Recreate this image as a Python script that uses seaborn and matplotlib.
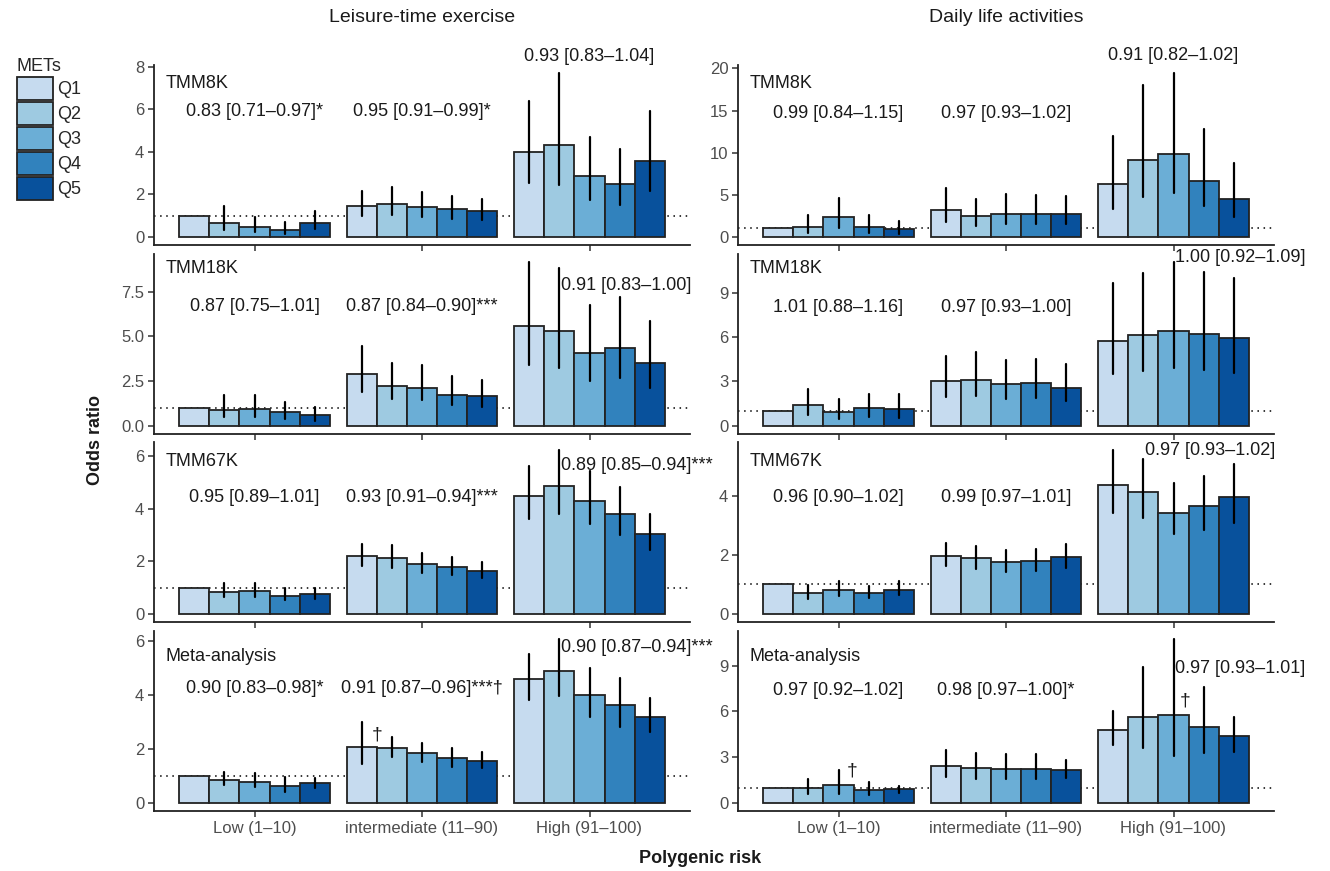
import numpy as np
import pandas as pd
import matplotlib
matplotlib.use("Agg")
import matplotlib.pyplot as plt
import matplotlib.transforms as mtransforms
from matplotlib.patches import Patch
from matplotlib.ticker import FormatStrFormatter
import seaborn as sns

sns.set_theme(style="white")
plt.rcParams['font.family'] = ['Liberation Sans', 'DejaVu Sans']

# ---------------- data ----------------
risk_groups = ["Low (1–10)", "intermediate (11–90)", "High (91–100)"]
met_levels = ["Q1", "Q2", "Q3", "Q4", "Q5"]
met_colors = ["#c6dbef", "#9ecae1", "#6baed6", "#3182bd", "#08519c"]
cohorts = ["TMM8K", "TMM18K", "TMM67K", "Meta-analysis"]
column_titles = ["Leisure-time exercise", "Daily life activities"]

# Leisure-time exercise: odds ratios [Low, intermediate, High] x [Q1..Q5]
leisure_tmm8k_or = [[1.0, 0.67, 0.47, 0.31, 0.67], [1.46, 1.55, 1.41, 1.29, 1.21], [3.97, 4.31, 2.85, 2.48, 3.56]]
leisure_tmm8k_lo = [[1.0, 0.31, 0.24, 0.14, 0.35], [0.99, 1.02, 0.94, 0.83, 0.80], [2.51, 2.43, 1.73, 1.49, 2.15]]
leisure_tmm8k_hi = [[1.0, 1.44, 0.94, 0.71, 1.21], [2.15, 2.35, 2.09, 1.91, 1.77], [6.38, 7.69, 4.71, 4.13, 5.91]]

leisure_tmm18k_or = [[1.0, 0.90, 0.96, 0.75, 0.60], [2.88, 2.24, 2.14, 1.75, 1.64], [5.60, 5.28, 4.06, 4.34, 3.53]]
leisure_tmm18k_lo = [[1.0, 0.49, 0.49, 0.36, 0.26], [1.90, 1.48, 1.45, 1.15, 1.05], [3.42, 3.25, 2.48, 2.65, 2.14]]
leisure_tmm18k_hi = [[1.0, 1.71, 1.71, 1.32, 1.07], [4.45, 3.53, 3.42, 2.76, 2.58], [9.15, 8.83, 6.77, 7.22, 5.88]]

leisure_tmm67k_or = [[1.0, 0.85, 0.88, 0.69, 0.75], [2.22, 2.13, 1.89, 1.80, 1.64], [4.51, 4.87, 4.32, 3.81, 3.03]]
leisure_tmm67k_lo = [[1.0, 0.64, 0.64, 0.54, 0.57], [1.82, 1.76, 1.57, 1.49, 1.38], [3.63, 3.80, 3.44, 3.01, 2.42]]
leisure_tmm67k_hi = [[1.0, 1.17, 1.16, 0.97, 1.00], [2.68, 2.61, 2.31, 2.18, 1.99], [5.62, 6.24, 5.44, 4.84, 3.82]]

leisure_meta_or = [[1.0, 0.84, 0.78, 0.61, 0.72], [2.08, 2.03, 1.84, 1.65, 1.55], [4.58, 4.87, 3.98, 3.62, 3.18]]
leisure_meta_lo = [[1.0, 0.65, 0.58, 0.39, 0.55], [1.44, 1.71, 1.52, 1.33, 1.29], [3.79, 3.95, 3.16, 2.82, 2.63]]
leisure_meta_hi = [[1.0, 1.14, 1.10, 0.94, 0.92], [3.00, 2.45, 2.20, 2.04, 1.87], [5.51, 6.06, 4.99, 4.61, 3.88]]

# Daily life activities
daily_tmm8k_or = [[1.0, 1.20, 2.31, 1.20, 0.88], [3.15, 2.51, 2.75, 2.71, 2.71], [6.22, 9.12, 9.88, 6.65, 4.46]]
daily_tmm8k_lo = [[1.0, 0.44, 1.08, 0.48, 0.36], [1.79, 1.31, 1.55, 1.55, 1.55], [3.27, 4.74, 5.26, 3.63, 2.31]]
daily_tmm8k_hi = [[1.0, 2.63, 4.62, 2.63, 1.91], [5.78, 4.46, 5.06, 4.98, 4.90], [12.03, 18.0, 19.44, 12.75, 8.73]]

daily_tmm18k_or = [[1.0, 1.38, 0.92, 1.17, 1.15], [3.00, 3.09, 2.80, 2.86, 2.57], [5.71, 6.11, 6.43, 6.23, 5.91]]
daily_tmm18k_lo = [[1.0, 0.72, 0.45, 0.61, 0.56], [1.92, 2.03, 1.80, 1.85, 1.67], [3.50, 3.72, 3.93, 3.79, 3.56]]
daily_tmm18k_hi = [[1.0, 2.48, 1.78, 2.14, 2.14], [4.71, 4.96, 4.47, 4.51, 4.15], [9.63, 10.35, 11.05, 10.42, 9.97]]

daily_tmm67k_or = [[1.0, 0.72, 0.81, 0.70, 0.82], [1.98, 1.88, 1.77, 1.78, 1.92], [4.38, 4.15, 3.44, 3.66, 3.98]]
daily_tmm67k_lo = [[1.0, 0.52, 0.60, 0.53, 0.63], [1.63, 1.52, 1.43, 1.45, 1.57], [3.43, 3.25, 2.70, 2.86, 3.09]]
daily_tmm67k_hi = [[1.0, 0.99, 1.10, 0.95, 1.10], [2.41, 2.30, 2.18, 2.19, 2.36], [5.56, 5.27, 4.44, 4.67, 5.08]]

daily_meta_or = [[1.0, 0.99, 1.18, 0.83, 0.88], [2.43, 2.30, 2.21, 2.24, 2.15], [4.78, 5.61, 5.75, 5.00, 4.36]]
daily_meta_lo = [[1.0, 0.57, 0.61, 0.53, 0.64], [1.71, 1.58, 1.54, 1.56, 1.64], [3.77, 3.60, 3.05, 3.25, 3.36]]
daily_meta_hi = [[1.0, 1.58, 2.13, 1.36, 1.12], [3.44, 3.25, 3.20, 3.20, 2.81], [6.05, 8.93, 10.75, 7.63, 5.66]]

# Trend-test annotations per panel: [Low, intermediate, High]
leisure_labels = [
    ["0.83 [0.71–0.97]*", "0.95 [0.91–0.99]*", "0.93 [0.83–1.04]"],
    ["0.87 [0.75–1.01]", "0.87 [0.84–0.90]***", "0.91 [0.83–1.00]"],
    ["0.95 [0.89–1.01]", "0.93 [0.91–0.94]***", "0.89 [0.85–0.94]***"],
    ["0.90 [0.83–0.98]*", "0.91 [0.87–0.96]***†", "0.90 [0.87–0.94]***"],
]
daily_labels = [
    ["0.99 [0.84–1.15]", "0.97 [0.93–1.02]", "0.91 [0.82–1.02]"],
    ["1.01 [0.88–1.16]", "0.97 [0.93–1.00]", "1.00 [0.92–1.09]"],
    ["0.96 [0.90–1.02]", "0.99 [0.97–1.01]", "0.97 [0.93–1.02]"],
    ["0.97 [0.92–1.02]", "0.98 [0.97–1.00]*", "0.97 [0.93–1.01]"],
]

y_ticks_leisure = [[0, 2, 4, 6, 8], [0, 2.5, 5, 7.5], [0, 2, 4, 6], [0, 2, 4, 6]]
y_ticks_daily = [[0, 5, 10, 15, 20], [0, 3, 6, 9], [0, 2, 4], [0, 3, 6, 9]]

# ---------------- layout (positions only) ----------------
W, H = 1330, 871
col_x = [154, 738]
col_w = 536
row_top = [65, 254, 442, 631]
row_h = 180
lowint_yfrac = [[0.739, 0.706, 0.694, 0.683], [0.728, 0.700, 0.689, 0.667]]
high_pos = [
    [(2.0, 8.48, "center"), (1.83, 7.83, "left"), (1.83, 5.66, "left"), (1.83, 5.74, "left")],
    [(2.0, 21.5, "center"), (2.01, 11.37, "left"), (1.83, 5.54, "left"), (2.01, 8.8, "left")],
]
dagger_pos = {(0, 3): [(0.70, 2.5)], (1, 3): [(0.05, 2.1), (2.04, 6.7)]}
cohort_label_yfrac = [0.90, 0.92, 0.89, 0.86]

panels = [
    [(leisure_tmm8k_or, leisure_tmm8k_lo, leisure_tmm8k_hi),
     (leisure_tmm18k_or, leisure_tmm18k_lo, leisure_tmm18k_hi),
     (leisure_tmm67k_or, leisure_tmm67k_lo, leisure_tmm67k_hi),
     (leisure_meta_or, leisure_meta_lo, leisure_meta_hi)],
    [(daily_tmm8k_or, daily_tmm8k_lo, daily_tmm8k_hi),
     (daily_tmm18k_or, daily_tmm18k_lo, daily_tmm18k_hi),
     (daily_tmm67k_or, daily_tmm67k_lo, daily_tmm67k_hi),
     (daily_meta_or, daily_meta_lo, daily_meta_hi)],
]
labels_all = [leisure_labels, daily_labels]
yticks_all = [y_ticks_leisure, y_ticks_daily]

fig = plt.figure(figsize=(W / 100, H / 100), dpi=100)
fig.patch.set_facecolor("white")

txt_color = "#1a1a1a"
tick_color = "#4d4d4d"

for c in range(2):
    for r in range(4):
        or_v, lo_v, hi_v = panels[c][r]
        rows = []
        for gi, risk in enumerate(risk_groups):
            for qi, met in enumerate(met_levels):
                rows.append(dict(risk=risk, met=met, odds=or_v[gi][qi],
                                 lo=lo_v[gi][qi], hi=hi_v[gi][qi]))
        df = pd.DataFrame(rows)

        ax = fig.add_axes([col_x[c] / W, 1 - (row_top[r] + row_h) / H, col_w / W, row_h / H])
        sns.barplot(data=df, x="risk", y="odds", hue="met", order=risk_groups,
                    hue_order=met_levels, palette=met_colors, width=0.9, gap=0,
                    errorbar=None, edgecolor="#222222", linewidth=1.3,
                    saturation=1, legend=False, ax=ax, zorder=2)

        # error bars positioned from the drawn bars
        for cont, met in zip(ax.containers, met_levels):
            for bar, risk in zip(cont, risk_groups):
                xc = bar.get_x() + bar.get_width() / 2
                sel = df[(df.risk == risk) & (df.met == met)].iloc[0]
                lc = ax.vlines(xc, sel.lo, sel.hi, color="black", lw=1.6, zorder=4)
                lc.set_capstyle("round")

        ax.axhline(1, color="black", lw=1.1, ls=(0, (1, 3)), zorder=1)

        M = df.hi.max()
        ax.set_ylim(-0.05 * M, 1.05 * M)
        ax.set_xlim(-0.6, 2.6)
        ax.set_yticks(yticks_all[c][r])
        if c == 0 and r == 1:
            ax.yaxis.set_major_formatter(FormatStrFormatter("%.1f"))
        else:
            ax.yaxis.set_major_formatter(FormatStrFormatter("%g"))
        ax.set_xticks([0, 1, 2])
        if r == 3:
            ax.set_xticklabels(risk_groups)
        else:
            ax.set_xticklabels([])
        ax.set_xlabel("")
        ax.set_ylabel("")
        for side in ["top", "right"]:
            ax.spines[side].set_visible(False)
        for side in ["left", "bottom"]:
            ax.spines[side].set_linewidth(1.3)
            ax.spines[side].set_color("#222222")
        ax.tick_params(axis="both", direction="out", length=4, width=1.1,
                       color="#333333", labelcolor=tick_color, labelsize=12, pad=3,
                       bottom=True, left=True)
        ax.set_facecolor("white")

        # cohort label
        ax.text(0.022, cohort_label_yfrac[r], cohorts[r], transform=ax.transAxes,
                fontsize=13, color=txt_color, ha="left", va="center")

        # annotations
        trans = mtransforms.blended_transform_factory(ax.transData, ax.transAxes)
        labs = labels_all[c][r]
        for gi in range(2):
            ax.text(gi, lowint_yfrac[c][r], labs[gi], transform=trans, fontsize=13,
                    color=txt_color, ha="center", va="center", clip_on=False)
        hx, hy, ha = high_pos[c][r]
        ax.text(hx, hy, labs[2], fontsize=13, color=txt_color, ha=ha, va="center",
                clip_on=False)
        for (dx, dy) in dagger_pos.get((c, r), []):
            ax.text(dx, dy, "†", fontsize=14, color=txt_color, ha="left", va="center")

# titles and axis titles
fig.text((col_x[0] + col_w / 2) / W, 1 - 18 / H, column_titles[0], fontsize=14,
         ha="center", va="center", color=txt_color)
fig.text((col_x[1] + col_w / 2) / W, 1 - 18 / H, column_titles[1], fontsize=14,
         ha="center", va="center", color=txt_color)
fig.text(95 / W, 1 - 440 / H, "Odds ratio", rotation=90, fontsize=13, fontweight="bold",
         ha="center", va="center", color=txt_color)
fig.text(700 / W, 1 - 858 / H, "Polygenic risk", fontsize=13, fontweight="bold",
         ha="center", va="center", color=txt_color)

# legend
handles = [Patch(facecolor=col, edgecolor="#222222", linewidth=1.3, label=q)
           for q, col in zip(met_levels, met_colors)]
fig.legend(handles=handles, title="METs", loc="upper left",
           bbox_to_anchor=(17 / W, 1 - 58 / H), frameon=False, fontsize=13,
           title_fontsize=13, handlelength=2.0, handleheight=1.6, labelspacing=0.1,
           handletextpad=0.25, borderaxespad=0, borderpad=0, alignment="left")

fig.savefig("out.png", dpi=100, facecolor="white")
